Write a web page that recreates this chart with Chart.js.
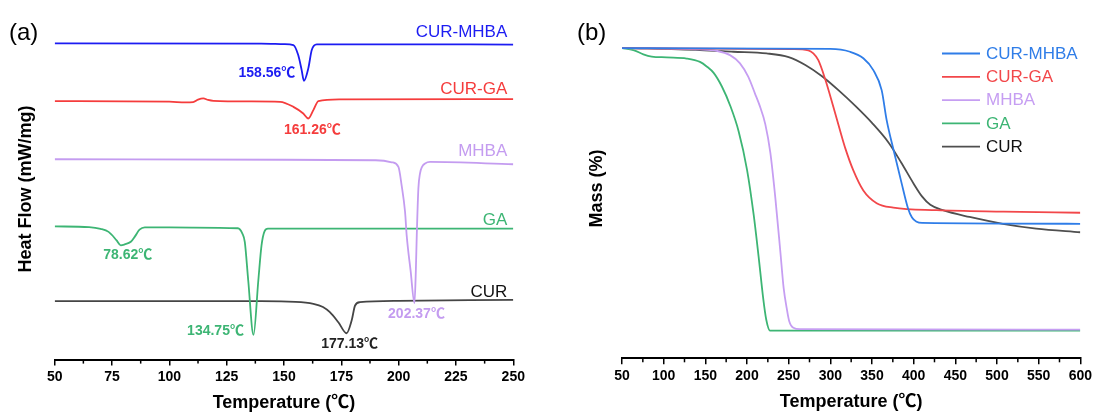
<!DOCTYPE html>
<html>
<head>
<meta charset="utf-8">
<script src="https://cdn.jsdelivr.net/npm/chart.js@4.4.1/dist/chart.umd.min.js"></script>
<style>
  html, body { margin: 0; padding: 0; background: #fff; }
  #wrap { position: relative; width: 1095px; height: 414px; }
  .panel { position: absolute; top: 0; height: 414px; }
  #pa { left: 0; width: 545px; }
  #pb { left: 545px; width: 550px; }
</style>
</head>
<body>
<div id="wrap">
  <div class="panel" id="pa"><canvas id="dsc"></canvas></div>
  <div class="panel" id="pb"><canvas id="tga"></canvas></div>
</div>
<script>
const FONT = "'Liberation Sans', Arial, 'Noto Sans CJK SC', sans-serif";

// ---- (a) DSC, heat flow curves (stacked, arbitrary offset) ----
const dscTicks = [50, 75, 100, 125, 150, 175, 200, 225, 250];
const dscNames = ['CUR-MHBA', 'CUR-GA', 'MHBA', 'GA', 'CUR'];
const dscColors = ['#1c1cf2', '#f53c3c', '#c49cf0', '#3db574', '#454545'];

const dscCurMhbaT = [50, 140, 150, 154.1, 156.2, 157.7, 158.7, 160.6, 162.1, 164.3, 200, 250];
const dscCurMhbaY = [3.157, 3.155, 3.15, 3.14, 3.04, 2.89, 2.783, 2.907, 3.09, 3.147, 3.147, 3.145];

const dscCurGaT = [50, 100, 107, 110.4, 112.5, 114.8, 116.9, 119.2, 135, 148.3, 154.1, 158.4, 160.6, 162.8, 165, 174.4, 250];
const dscCurGaY = [2.58, 2.575, 2.567, 2.57, 2.595, 2.607, 2.592, 2.583, 2.577, 2.573, 2.523, 2.457, 2.407, 2.49, 2.58, 2.597, 2.60];

const dscMhbaT = [50, 150, 190, 197, 199.9, 201.3, 202.8, 203.5, 205.2, 206.9, 207.5, 207.9, 208.6, 209.3, 210.2, 211.5, 213.7, 250];
const dscMhbaY = [2.00, 1.995, 1.99, 1.97, 1.923, 1.74, 1.473, 1.24, 0.89, 0.565, 0.89, 1.24, 1.707, 1.857, 1.925, 1.957, 1.973, 1.95];

const dscGaT = [50, 65, 70, 73.5, 77, 78.8, 80.5, 83.2, 85, 87, 89.3, 110, 129.9, 131.8, 132.9, 134.4, 136.7, 138.8, 140.2, 141.5, 143, 200, 250];
const dscGaY = [1.33, 1.322, 1.305, 1.275, 1.19, 1.141, 1.15, 1.176, 1.23, 1.297, 1.32, 1.318, 1.311, 1.26, 1.174, 0.79, 0.247, 0.79, 1.14, 1.28, 1.307, 1.307, 1.307];

const dscCurT = [50, 140, 155, 162.8, 167, 170, 173.7, 177.3, 179.5, 181, 183.1, 200, 250];
const dscCurY = [0.583, 0.583, 0.577, 0.557, 0.525, 0.473, 0.373, 0.263, 0.39, 0.54, 0.573, 0.587, 0.597];

// peak annotations: series index, temperature of the drawn minimum, text
const dscPeakSeries = [0, 1, 2, 3, 3, 4];
const dscPeakT = [158.7, 160.6, 206.9, 78.8, 136.7, 177.3];
const dscPeakText = ['158.56℃', '161.26℃', '202.37℃', '78.62℃', '134.75℃', '177.13℃'];

// ---- (b) TGA, mass % ----
const tgaTicks = [50, 100, 150, 200, 250, 300, 350, 400, 450, 500, 550, 600];
const tgaNames = ['CUR-MHBA', 'CUR-GA', 'MHBA', 'GA', 'CUR'];
const tgaColors = ['#2f7de8', '#f2474a', '#c69ef2', '#3db574', '#4f4f4f'];

const tgaCurMhbaT = [50, 300, 323.6, 339.6, 351.6, 361.6, 367.6, 376.4, 385.6, 393, 398, 403.6, 410, 600];
const tgaCurMhbaY = [100, 99.7, 98.7, 96.4, 92.2, 85.1, 74.5, 63.3, 52.1, 43.5, 40, 38.5, 38.1, 37.8];

const tgaCurGaT = [50, 255, 273.6, 279.6, 285.6, 293.6, 303.6, 311.6, 318, 327.6, 339.6, 355.6, 375.6, 427.6, 507.6, 600];
const tgaCurGaY = [100, 99.6, 99.2, 98.1, 95.7, 89.2, 79.2, 70.9, 64.5, 56.7, 49.6, 45.1, 43.5, 42.6, 42.1, 41.7];

const tgaMhbaT = [50, 143.6, 163.6, 179.6, 191.6, 201.6, 209.6, 215, 222, 228, 234, 240, 244, 247.6, 250.5, 255.6, 263.6, 400, 600];
const tgaMhbaY = [100, 99.5, 99, 97.5, 94.6, 89.8, 83.9, 79.8, 73, 63, 47, 28, 15, 8, 3.5, 1.0, 0.5, 0.4, 0.3];

const tgaGaT = [50, 63.6, 75.6, 85.6, 103.6, 127.6, 143.6, 152, 160, 170, 180, 190, 200, 208, 214, 219.6, 223, 227.6, 600];
const tgaGaY = [100, 99.3, 97.8, 97, 96.7, 96.3, 95.1, 93.4, 91.2, 86.3, 79.5, 70.5, 57, 41, 26, 11, 4, 0, 0];

const tgaCurT = [50, 143.6, 183.6, 223.6, 250, 270, 290, 310, 330, 350, 370, 385, 400, 410, 420, 435, 467, 507, 547, 600];
const tgaCurY = [100, 99.3, 98.7, 98.1, 96.8, 94, 90, 85, 79.5, 73.5, 66.5, 59.5, 52, 47.5, 44.5, 42.6, 40.2, 37.8, 36.1, 34.8];

Chart.defaults.font.family = FONT;
Chart.defaults.color = '#000';

const pts = (xs, ys) => xs.map((x, i) => ({ x: x, y: ys[i] }));

const lineSet = (name, color, xs, ys) => ({
  label: name,
  data: pts(xs, ys),
  borderColor: color,
  borderWidth: 1.8,
  pointRadius: 0,
  fill: false,
  cubicInterpolationMode: 'monotone'
});

const xAxis = (min, max, ticks) => ({
  type: 'linear',
  min: min,
  max: max,
  afterBuildTicks: (s) => { s.ticks = ticks.map(v => ({ value: v })); },
  border: { display: true, color: '#000', width: 2 },
  grid: { drawOnChartArea: false, drawTicks: true, tickLength: 6, color: '#000', lineWidth: 1.5 },
  ticks: { font: { size: 14, weight: 'bold' }, color: '#000', padding: 3, maxRotation: 0, autoSkip: false },
  title: { display: true, text: 'Temperature (℃)', font: { size: 18, weight: 'bold' }, color: '#000', padding: { top: 4, bottom: 0 } }
});

// minor ticks between labelled ones
const minorTicks = {
  id: 'minorTicks',
  afterDraw(chart) {
    const xs = chart.scales.x, ctx = chart.ctx, b = chart.chartArea.bottom;
    const t = xs.ticks.map(k => k.value);
    ctx.save();
    ctx.strokeStyle = '#000';
    ctx.lineWidth = 1.5;
    for (let i = 0; i < t.length - 1; i++) {
      const px = xs.getPixelForValue((t[i] + t[i + 1]) / 2);
      ctx.beginPath();
      ctx.moveTo(px, b);
      ctx.lineTo(px, b + 4);
      ctx.stroke();
    }
    ctx.restore();
  }
};

const dscLabels = {
  id: 'dscLabels',
  afterDatasetsDraw(chart) {
    const ctx = chart.ctx, xs = chart.scales.x, ys = chart.scales.y;
    ctx.save();
    ctx.fillStyle = '#000';
    ctx.textBaseline = 'middle';
    ctx.textAlign = 'left';
    ctx.font = '24px ' + FONT;
    ctx.fillText('(a)', 9, 33);

    ctx.save();
    ctx.translate(26, 189);
    ctx.rotate(-Math.PI / 2);
    ctx.textAlign = 'center';
    ctx.font = 'bold 18px ' + FONT;
    ctx.fillText('Heat Flow (mW/mg)', 0, 0);
    ctx.restore();

    // curve names above the right ends
    const nameLift = [12.5, 10, 13.3, 8.3, 7.6];
    ctx.textAlign = 'right';
    ctx.font = '17px ' + FONT;
    chart.data.datasets.forEach((ds, i) => {
      const last = ds.data[ds.data.length - 1];
      ctx.fillStyle = i === 4 ? '#111' : dscColors[i];
      ctx.fillText(ds.label, xs.right - 6, ys.getPixelForValue(last.y) - nameLift[i]);
    });

    // peak temperatures
    const shift = [[-37, -8], [4, 12], [2, 11.5], [7, 10], [-38, -4], [3, 11]];
    ctx.textAlign = 'center';
    ctx.font = 'bold 14px ' + FONT;
    dscPeakT.forEach((t, k) => {
      const ds = chart.data.datasets[dscPeakSeries[k]];
      const p = ds.data.find(d => d.x === t);
      ctx.fillStyle = dscPeakSeries[k] === 4 ? '#222' : dscColors[dscPeakSeries[k]];
      ctx.fillText(dscPeakText[k], xs.getPixelForValue(p.x) + shift[k][0], ys.getPixelForValue(p.y) + shift[k][1]);
    });
    ctx.restore();
  }
};

const tgaLabels = {
  id: 'tgaLabels',
  afterDatasetsDraw(chart) {
    const ctx = chart.ctx;
    ctx.save();
    ctx.fillStyle = '#000';
    ctx.textBaseline = 'middle';
    ctx.textAlign = 'left';
    ctx.font = '24px ' + FONT;
    ctx.fillText('(b)', 32, 33.7);

    ctx.save();
    ctx.translate(52.5, 188.5);
    ctx.rotate(-Math.PI / 2);
    ctx.textAlign = 'center';
    ctx.font = 'bold 18px ' + FONT;
    ctx.fillText('Mass (%)', 0, 0);
    ctx.restore();

    // legend
    ctx.font = '17px ' + FONT;
    chart.data.datasets.forEach((ds, i) => {
      const y = 53.5 + i * 23.3;
      ctx.strokeStyle = ds.borderColor;
      ctx.lineWidth = 1.8;
      ctx.beginPath();
      ctx.moveTo(397, y);
      ctx.lineTo(435, y);
      ctx.stroke();
      ctx.fillStyle = i === 4 ? '#111' : ds.borderColor;
      ctx.fillText(ds.label, 441, y + 0.5);
    });
    ctx.restore();
  }
};

new Chart(document.getElementById('dsc'), {
  type: 'line',
  data: {
    datasets: [
      lineSet(dscNames[0], dscColors[0], dscCurMhbaT, dscCurMhbaY),
      lineSet(dscNames[1], dscColors[1], dscCurGaT, dscCurGaY),
      lineSet(dscNames[2], dscColors[2], dscMhbaT, dscMhbaY),
      lineSet(dscNames[3], dscColors[3], dscGaT, dscGaY),
      lineSet(dscNames[4], dscColors[4], dscCurT, dscCurY)
    ]
  },
  options: {
    responsive: true,
    maintainAspectRatio: false,
    animation: false,
    layout: { padding: { left: 54.7, right: 31.7, top: 16, bottom: 0 } },
    plugins: { legend: { display: false }, tooltip: { enabled: false } },
    scales: {
      x: xAxis(50, 250, dscTicks),
      y: { type: 'linear', min: 0, max: 3.43, display: false }
    }
  },
  plugins: [minorTicks, dscLabels]
});

new Chart(document.getElementById('tga'), {
  type: 'line',
  data: {
    datasets: [
      lineSet(tgaNames[0], tgaColors[0], tgaCurMhbaT, tgaCurMhbaY),
      lineSet(tgaNames[1], tgaColors[1], tgaCurGaT, tgaCurGaY),
      lineSet(tgaNames[2], tgaColors[2], tgaMhbaT, tgaMhbaY),
      lineSet(tgaNames[3], tgaColors[3], tgaGaT, tgaGaY),
      lineSet(tgaNames[4], tgaColors[4], tgaCurT, tgaCurY)
    ]
  },
  options: {
    responsive: true,
    maintainAspectRatio: false,
    animation: false,
    layout: { padding: { left: 77, right: 14.5, top: 16, bottom: 1.3 } },
    plugins: { legend: { display: false }, tooltip: { enabled: false } },
    scales: {
      x: xAxis(50, 600, tgaTicks),
      y: { type: 'linear', min: -9.82, max: 111.35, display: false }
    }
  },
  plugins: [minorTicks, tgaLabels]
});
</script>
</body>
</html>
